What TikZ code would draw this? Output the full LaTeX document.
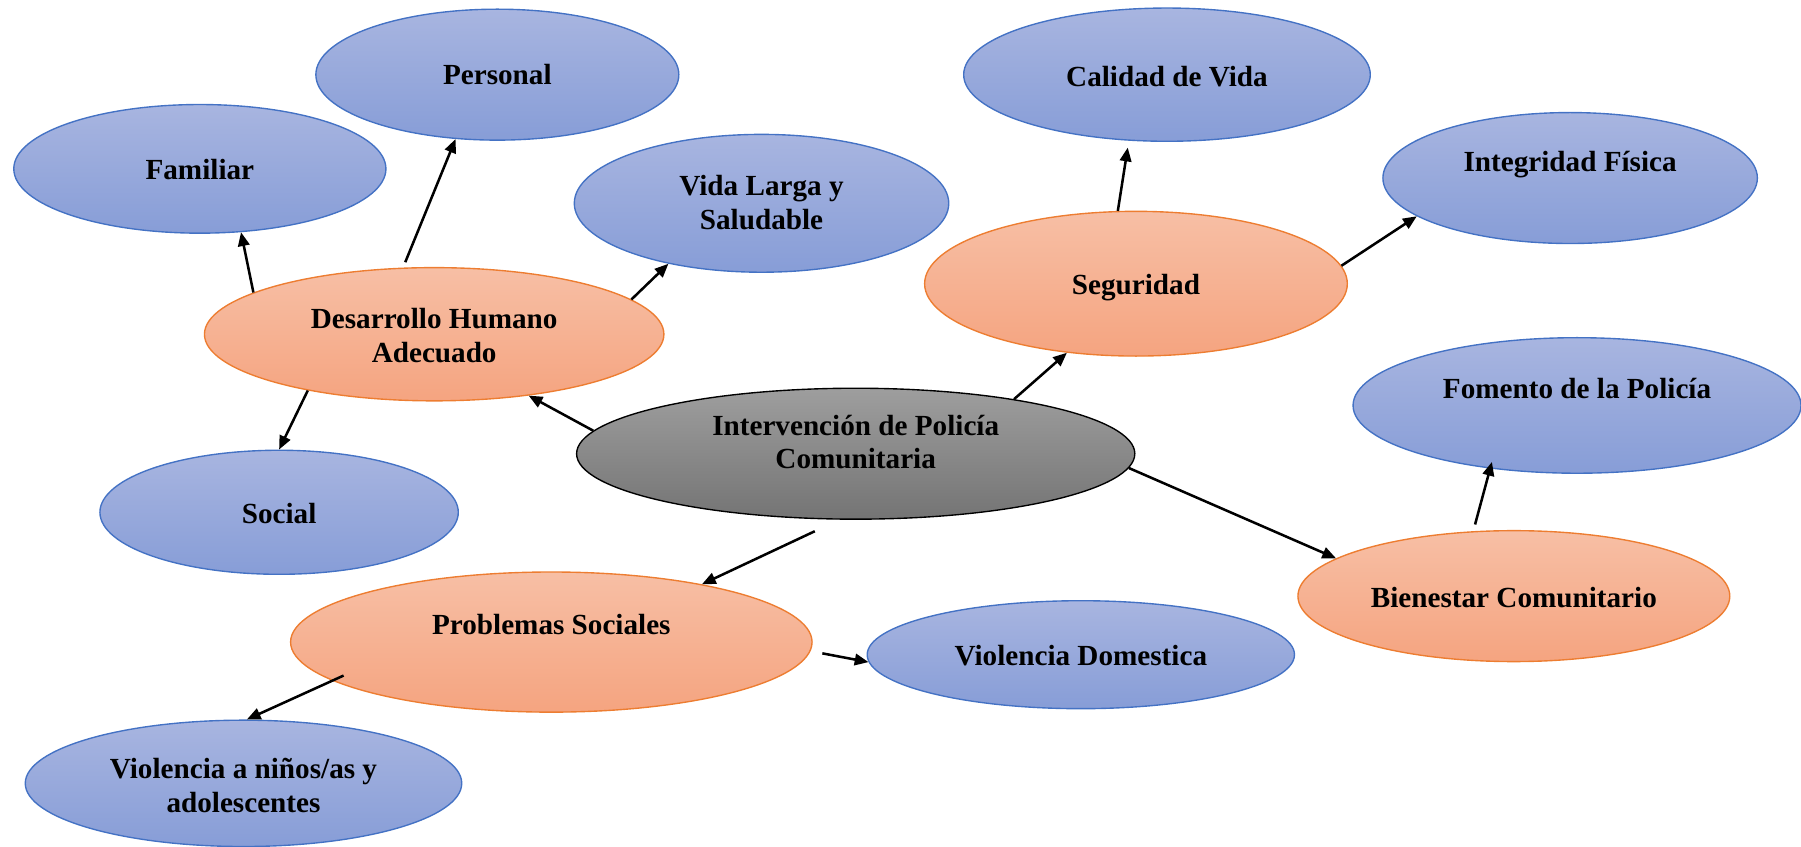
\documentclass[tikz,border=0pt]{standalone}
\usepackage{fontspec}
\setmainfont{Liberation Serif}
\usetikzlibrary{shapes.geometric,arrows.meta}
\definecolor{bluetop}{RGB}{168,181,224}
\definecolor{bluebot}{RGB}{135,157,215}
\definecolor{blueline}{RGB}{68,114,196}
\definecolor{orgtop}{RGB}{247,191,165}
\definecolor{orgbot}{RGB}{245,164,128}
\definecolor{orgline}{RGB}{237,125,49}
\definecolor{graytop}{RGB}{158,158,158}
\definecolor{graybot}{RGB}{116,116,116}
\newcommand{\lbl}[2]{\raisebox{#1}[0pt][0pt]{\begin{tabular}[b]{@{}c@{}}#2\end{tabular}}}
\begin{document}
\begin{tikzpicture}[x=0.5pt,y=-0.5pt,
  ell/.style={ellipse, inner sep=0pt, line width=0.6pt,
    font=\fontsize{12.7}{14.75}\selectfont\bfseries},
  sz/.style 2 args={minimum width=#1pt, minimum height=#2pt},
  blueell/.style={ell, draw=blueline, top color=bluetop, bottom color=bluebot},
  orgell/.style={ell, draw=orgline, top color=orgtop, bottom color=orgbot},
  grayell/.style={ell, draw=black, top color=graytop, bottom color=graybot},
  arr/.style={-{Triangle[length=6pt,width=5pt]}, line width=1.1pt}
]
\useasboundingbox (0,0) rectangle (1568,737.4);

\node[blueell, sz={158}{57}] (per) at (433,65) {\lbl{-4.5pt}{Personal}};
\node[blueell, sz={162}{56}] (fam) at (174,147) {\lbl{-4.85pt}{Familiar}};
\node[blueell, sz={163}{60}] (vida) at (663,177) {\lbl{-11.5pt}{Vida Larga y\\Saludable}};
\node[orgell, sz={200}{58}] (des) at (378,291) {\lbl{-12.4pt}{Desarrollo Humano\\Adecuado}};
\node[blueell, sz={156}{54}] (soc) at (243,446) {\lbl{-4.8pt}{Social}};
\node[grayell, sz={243}{57}] (int) at (745,395) {\lbl{-6.65pt}{Intervención de Policía\\Comunitaria}};
\node[orgell, sz={227}{61}] (prob) at (480,559) {\lbl{3.2pt}{Problemas Sociales}};
\node[blueell, sz={190}{55}] (vnin) at (212,682) {\lbl{-12.6pt}{Violencia a niños/as y\\adolescentes}};
\node[blueell, sz={186}{47}] (vdom) at (941,570) {\lbl{-4.75pt}{Violencia Domestica}};
\node[orgell, sz={188}{57}] (bien) at (1318,519) {\lbl{-4.9pt}{Bienestar Comunitario}};
\node[blueell, sz={195}{59}] (fom) at (1373,353) {\lbl{3.1pt}{Fomento de la Policía}};
\node[orgell, sz={184}{63}] (seg) at (989,247) {\lbl{-4.9pt}{Seguridad}};
\node[blueell, sz={177}{58}] (cal) at (1016,65) {\lbl{-4.95pt}{Calidad de Vida}};
\node[blueell, sz={163}{57}] (integ) at (1367,155) {\lbl{2.75pt}{Integridad Física}};

\draw[arr] (des.167) -- (fam.-57);
\draw[arr, shorten <=2.5pt] (des.115) -- (per.237);
\draw[arr] (des.10) -- (vida.213);
\draw[arr] (des.204) -- (soc.90);
\draw[arr] (int.175) -- (des.-33);
\draw[arr] (int.19) -- (seg.225);
\draw[arr, shorten >=3pt] (seg.104) -- (cal.240);
\draw[arr] (seg.5) -- (integ.194);
\draw[arr] (int.-3) -- (bien.168);
\draw[arr, shorten <=3pt, shorten >=-3pt] (bien.122) -- (fom.216);
\draw[arr, shorten <=11.75pt] (int.256) -- (prob.21);
\draw[arr, shorten <=5.2pt] (prob.-2.3) -- (vdom.182);
\draw[arr, shorten <=-5.4pt] (prob.190) -- (vnin.87);
\end{tikzpicture}
\end{document}
